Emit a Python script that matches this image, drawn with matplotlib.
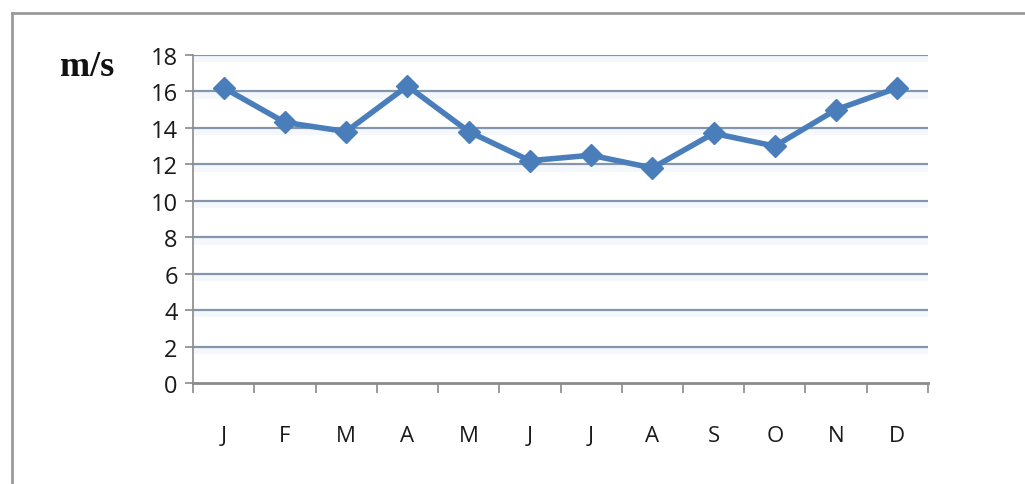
import matplotlib
matplotlib.use("Agg")
import matplotlib.pyplot as plt
from matplotlib.lines import Line2D
import numpy as np

months = ["J", "F", "M", "A", "M", "J", "J", "A", "S", "O", "N", "D"]
speed = [16.2, 14.3, 13.8, 16.3, 13.8, 12.2, 12.5, 11.8, 13.7, 13.0, 15.0, 16.2]
yticks = [0, 2, 4, 6, 8, 10, 12, 14, 16, 18]

W, H = 1025, 485
fig = plt.figure(figsize=(W / 100, H / 100), dpi=100)
fig.patch.set_facecolor("white")

# outer frame (top and left edges)
fig.add_artist(Line2D([12 / W, 12 / W], [0, 1 - 14 / H], color="#9a9a9a", lw=2, transform=fig.transFigure))
fig.add_artist(Line2D([12 / W, 1], [1 - 14 / H, 1 - 14 / H], color="#9a9a9a", lw=2, transform=fig.transFigure))

x0, x1 = 193, 928
y0, y1 = 56, 384
ax = fig.add_axes([x0 / W, 1 - y1 / H, (x1 - x0) / W, (y1 - y0) / H])
ax.set_facecolor("white")

x = np.arange(len(months))
ax.set_xlim(-0.5, len(months) - 0.5)
ax.set_ylim(0, 18)

for v in yticks[1:]:
    ax.axhline(v, color="#8496ad", lw=1.6, zorder=1)
    ax.axhspan(v - 0.4, v - 0.05, color="#f4f8fd", lw=0, zorder=0)

ax.plot(x, speed, color="#4a7ebb", lw=4, marker="D", markersize=11,
        markerfacecolor="#4a7ebb", markeredgecolor="#4a7ebb", zorder=3, clip_on=False)

ax.set_yticks(yticks)
ax.set_yticklabels([str(v) for v in yticks], fontsize=17, family="Open Sans",
                   fontweight="medium", color="#1a1a1a")
ax.set_xticks(np.arange(-0.5, len(months), 1.0))
ax.set_xticklabels([])
ax.set_xticks(x, minor=True)
ax.set_xticklabels(months, minor=True, fontsize=16, family="Open Sans",
                   fontweight="medium", color="#1a1a1a")
ax.tick_params(axis="x", which="minor", length=0, pad=30)
ax.tick_params(axis="x", which="major", length=7, width=1.2, color="#8a8a8a", direction="out")
ax.tick_params(axis="y", length=6, width=1.2, color="#8a8a8a", direction="out", pad=5)

for s in ["top", "right"]:
    ax.spines[s].set_visible(False)
ax.spines["left"].set_color("#8a8a8a")
ax.spines["left"].set_linewidth(1.2)
ax.spines["bottom"].set_color("#8a8a8a")
ax.spines["bottom"].set_linewidth(2)

fig.text(60 / W, 1 - 68 / H, "m/s", fontsize=26, fontweight="bold", family="Liberation Serif",
         va="center", ha="left", color="#111111")

fig.savefig("out.png", dpi=100)
